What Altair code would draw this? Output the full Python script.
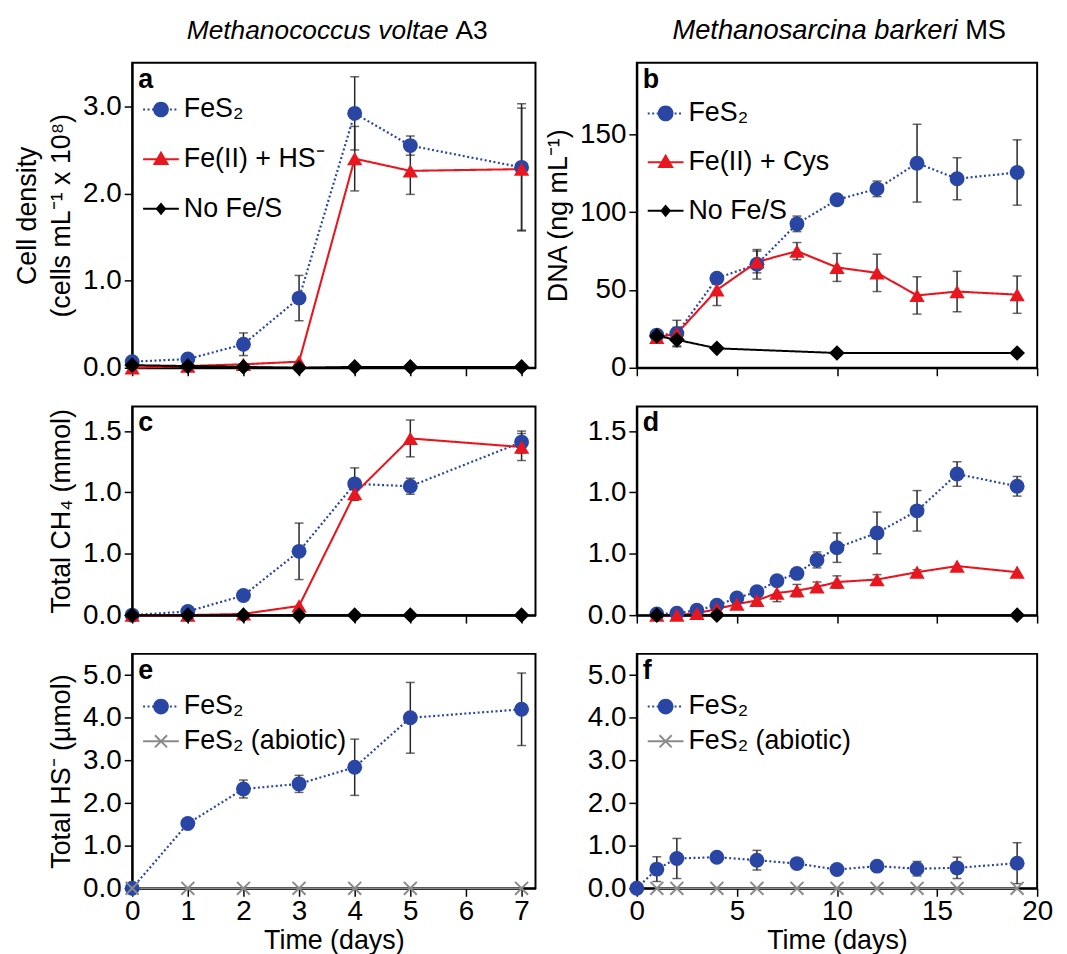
import altair as alt
import pandas as pd

FONT = "Liberation Sans"
BLUE, RED, BLACK, GRAY, ERRC = "#2a46a5", "#e8161e", "#000000", "#8a8a8a", "#262626"

FES2 = "FeS₂"
FEHS = "Fe(II) + HS⁻"
FECYS = "Fe(II) + Cys"
NONE = "No Fe/S"
ABIO = "FeS₂ (abiotic)"

# ---------------- data ----------------
# a: Methanococcus voltae, cell density (cells/mL x 1e8)
a_days = [0, 1, 2, 3, 4, 5, 7]
a_fes2 = [0.07, 0.10, 0.27, 0.80, 2.92, 2.55, 2.30]
a_fes2_err = [0, 0, 0.13, 0.26, 0.42, 0.11, 0.73]
a_fehs = [0.00, 0.02, 0.04, 0.07, 2.40, 2.26, 2.28]
a_fehs_err = [0, 0, 0, 0, 0.37, 0.27, 0.70]
a_none = [0.03, 0.02, 0.01, 0.00, 0.01, 0.01, 0.01]

# b: Methanosarcina barkeri, DNA (ng/mL)
b_days = [1, 2, 4, 6, 8, 10, 12, 14, 16, 19]
b_fes2 = [21, 22, 57.5, 66.5, 92.5, 108, 115, 131.5, 121.5, 125.5]
b_fes2_err = [0, 8.5, 0, 9.5, 5, 0, 5, 25, 13.5, 21]
b_fecys = [19.5, 22, 50, 68, 75, 64.5, 61, 46.5, 49, 47]
b_fecys_err = [0, 4, 10, 7, 5.5, 9, 12, 12, 13, 12]
b_none_days = [1, 2, 4, 10, 19]
b_none = [20.5, 18, 12.5, 9.5, 9.5]
b_none_err = [0, 4, 0, 0, 0]

# c: M. voltae, total CH4 (mmol)
c_days = [0, 1, 2, 3, 4, 5, 7]
c_fes2 = [0.00, 0.03, 0.16, 0.52, 1.07, 1.05, 1.41]
c_fes2_err = [0, 0, 0, 0.23, 0.13, 0.065, 0.09]
c_fehs = [0.00, 0.00, 0.01, 0.075, 0.99, 1.44, 1.37]
c_fehs_err = [0, 0, 0, 0, 0.055, 0.15, 0.11]
c_none = [0, 0, 0, 0, 0, 0, 0]

# d: M. barkeri, total CH4 (mmol)
d_days = [1, 2, 3, 4, 5, 6, 7, 8, 9, 10, 12, 14, 16, 19]
d_fes2 = [0.01, 0.015, 0.04, 0.08, 0.14, 0.19, 0.28, 0.34, 0.45, 0.55, 0.67, 0.85, 1.15, 1.05]
d_fes2_err = [0, 0, 0, 0, 0, 0, 0, 0, 0.065, 0.12, 0.17, 0.165, 0.10, 0.08]
d_fecys = [0.0, 0.0, 0.015, 0.05, 0.09, 0.12, 0.18, 0.20, 0.23, 0.27, 0.29, 0.35, 0.40, 0.35]
d_fecys_err = [0, 0, 0, 0, 0, 0, 0.07, 0.05, 0.04, 0.05, 0.04, 0.02, 0, 0]
d_none_days = [1, 4, 19]
d_none = [0, 0, 0]

# e: M. voltae, total HS- (umol)
e_days = [0, 1, 2, 3, 4, 5, 7]
e_fes2 = [0.0, 1.52, 2.33, 2.45, 2.84, 4.00, 4.20]
e_fes2_err = [0, 0, 0.21, 0.20, 0.66, 0.83, 0.85]
e_abio = [0, 0, 0, 0, 0, 0, 0]

# f: M. barkeri, total HS- (umol)
f_days = [0, 1, 2, 4, 6, 8, 10, 12, 14, 16, 19]
f_fes2 = [0.0, 0.45, 0.70, 0.73, 0.66, 0.58, 0.44, 0.52, 0.46, 0.48, 0.59]
f_fes2_err = [0, 0.29, 0.47, 0, 0.23, 0.10, 0, 0, 0.17, 0.25, 0.48]
f_abio_days = [1, 2, 4, 6, 8, 10, 12, 14, 16, 19]
f_abio = [0, 0, 0, 0, 0, 0, 0, 0, 0, 0]

# ---------------- styles ----------------
X_P = "M-1,-1L1,1M-1,1L1,-1"
M_CIRC = "M-0.44,0A0.44,0.44,0,1,1,0.44,0A0.44,0.44,0,1,1,-0.44,0Z"
M_TRI = "M0,-0.47L0.46,0.33L-0.46,0.33Z"
M_DIA = "M0,-0.36L0.3,0L0,0.36L-0.3,0Z"
M_X = "M-0.34,-0.34L0.34,0.34M-0.34,0.34L0.34,-0.34"
LINE_SYM = "M-1,0L1,0"

STYLE = {
    FES2: dict(color=BLUE, shape="circle", size=225, dash=[2, 2.5], lw=2.2,
               stroke="transparent", mleg=M_CIRC),
    FEHS: dict(color=RED, shape="triangle-up", size=250, dash=[1, 0], lw=2,
               stroke="transparent", mleg=M_TRI),
    FECYS: dict(color=RED, shape="triangle-up", size=250, dash=[1, 0], lw=2,
                stroke="transparent", mleg=M_TRI),
    NONE: dict(color=BLACK, shape="diamond", size=170, dash=[1, 0], lw=1.6,
               stroke="transparent", mleg=M_DIA),
    ABIO: dict(color=GRAY, shape=X_P, size=170, dash=[1, 0], lw=1.6,
               stroke=GRAY, mleg=M_X),
}


def make_df(entries):
    rows = []
    for series, days, vals, errs in entries:
        if errs is None:
            errs = [0] * len(vals)
        for d, v, e in zip(days, vals, errs):
            rows.append(dict(series=series, day=d, val=v, err=e, lo=v - e, hi=v + e))
    return pd.DataFrame(rows)


ONE = pd.DataFrame({"k": [0]})
EMPTY = pd.DataFrame({"series": pd.Series([], dtype=str), "series2": pd.Series([], dtype=str)})


def panel(entries, xdom, xticks, show_x, ydom, yticks, yfmt, ytitle, letter,
          w, h, legend_pos=None, half=False, top=None):
    keys = [e[0] for e in entries]
    df = make_df(entries)
    xs = alt.Scale(domain=xdom, nice=False, zero=False)
    ys = alt.Scale(domain=ydom, nice=False, zero=False)
    xkw = dict(values=xticks, labels=show_x, format="d")
    if show_x:
        xkw["title"] = "Time (days)"
        xkw["titlePadding"] = 3
        xkw["labelPadding"] = 1
    else:
        xkw["title"] = None
    ykw = dict(values=yticks, format=yfmt, title=ytitle)
    if half:
        ykw["labelExpr"] = "datum.value === 0.5 ? '1.0' : format(datum.value, '.1f')"
    X = alt.X("day:Q", scale=xs, axis=alt.Axis(**xkw))
    Y = alt.Y("val:Q", scale=ys, axis=alt.Axis(**ykw))

    def sc(attr):
        return alt.Scale(domain=keys, range=[STYLE[k][attr] for k in keys])

    errs = alt.Chart(df[df.err > 0]).mark_errorbar(
        ticks={"size": 9, "strokeWidth": 1.5}, thickness=1.5, color=ERRC
    ).encode(
        x=X,
        y=alt.Y("lo:Q", scale=ys, axis=alt.Axis(**ykw)),
        y2="hi:Q",
    )
    lines = alt.Chart(df).mark_line(strokeCap="butt").encode(
        x=X, y=Y,
        color=alt.Color("series:N", scale=sc("color"), legend=None),
        strokeDash=alt.StrokeDash("series:N", scale=sc("dash"), legend=None),
        strokeWidth=alt.StrokeWidth("series:N", scale=sc("lw"), legend=None),
        order="day:Q",
    )
    pts = alt.Chart(df).mark_point(filled=True, opacity=1, strokeWidth=2).encode(
        x=X, y=Y,
        color=alt.Color("series:N", scale=sc("color"), legend=None),
        shape=alt.Shape("series:N", scale=sc("shape"), legend=None),
        size=alt.Size("series:N", scale=sc("size"), legend=None),
        stroke=alt.Stroke("series:N", scale=sc("stroke"), legend=None),
    )
    lab = alt.Chart(ONE).mark_text(
        text=letter, font=FONT, fontSize=27, fontWeight="bold", align="left",
        baseline="alphabetic", color="black"
    ).encode(x=alt.value(6), y=alt.value(25))
    layers = [errs, lines, pts, lab]
    if top is not None:
        it, rm, xi, xr, fs = top
        layers.append(alt.Chart(ONE).mark_text(
            text=it, font=FONT, fontSize=fs, fontStyle="italic", align="right",
            baseline="alphabetic", color="black").encode(x=alt.value(xi), y=alt.value(-24)))
        layers.append(alt.Chart(ONE).mark_text(
            text=rm, font=FONT, fontSize=fs, align="left",
            baseline="alphabetic", color="black").encode(x=alt.value(xr), y=alt.value(-24)))
    if legend_pos is not None:
        leg_y, leg_pad = legend_pos
        common = dict(
            title=None, orient="none", legendX=10, legendY=leg_y, symbolSize=1296,
            labelFont=FONT, labelFontSize=27, labelOffset=4,
            rowPadding=leg_pad, labelLimit=400, padding=0, symbolOpacity=1,
        )
        leg_line = alt.Legend(symbolType=LINE_SYM, symbolFillColor="transparent",
                              symbolStrokeWidth=2, labelColor="black", **common)
        leg_mark = alt.Legend(symbolStrokeWidth=2, labelColor="transparent", **common)
        line_leg_layer = alt.Chart(EMPTY).mark_point(filled=False, size=1296, strokeWidth=2, opacity=1).encode(
            stroke=alt.Stroke("series:N", scale=sc("color"), legend=leg_line),
            strokeDash=alt.StrokeDash("series:N", scale=sc("dash"), legend=leg_line),
        )
        mark_leg_layer = alt.Chart(EMPTY).mark_point(filled=True, size=1296, strokeWidth=2, opacity=1).encode(
            fill=alt.Fill("series2:N", scale=sc("color"), legend=leg_mark),
            shape=alt.Shape("series2:N", scale=sc("mleg"), legend=leg_mark),
            stroke=alt.Stroke("series2:N", scale=sc("stroke"), legend=leg_mark),
        )
        layers += [line_leg_layer, mark_leg_layer]
    return alt.layer(*layers).resolve_scale(
        shape="independent", stroke="independent", strokeDash="independent",
        fill="independent",
    ).properties(width=w, height=h)


W1, W2 = 406, 403
H1, H2, H3 = 307, 210, 236
T1 = [0, 1, 2, 3, 4, 5, 6, 7]
T2 = [0, 5, 10, 15, 20]

pa = panel([(FES2, a_days, a_fes2, a_fes2_err), (FEHS, a_days, a_fehs, a_fehs_err), (NONE, a_days, a_none, None)],
           [0, 7.25], T1, False, [0, 3.5], [0, 1, 2, 3], ".1f",
           ["Cell density", "(cells mL⁻¹ x 10⁸)"], "a", W1, H1, legend_pos=(28, 18),
           top=("Methanococcus voltae", "A3", 318.5, 325.5, 26.5))
pb = panel([(FES2, b_days, b_fes2, b_fes2_err), (FECYS, b_days, b_fecys, b_fecys_err), (NONE, b_none_days, b_none, b_none_err)],
           [0, 20], T2, False, [0, 196], [0, 50, 100, 150], "d",
           "DNA (ng mL⁻¹)", "b", W2, H1, legend_pos=(32, 17),
           top=("Methanosarcina barkeri", "MS", 323, 330.5, 27.5))
pc = panel([(FES2, c_days, c_fes2, c_fes2_err), (FEHS, c_days, c_fehs, c_fehs_err), (NONE, c_days, c_none, None)],
           [0, 7.25], T1, False, [0, 1.7], [0, 0.5, 1.0, 1.5], ".1f",
           "Total CH₄ (mmol)", "c", W1, H2, half=True)
pd_ = panel([(FES2, d_days, d_fes2, d_fes2_err), (FECYS, d_days, d_fecys, d_fecys_err), (NONE, d_none_days, d_none, None)],
            [0, 20], T2, False, [0, 1.7], [0, 0.5, 1.0, 1.5], ".1f",
            None, "d", W2, H2, half=True)
pe = panel([(FES2, e_days, e_fes2, e_fes2_err), (ABIO, e_days, e_abio, None)],
           [0, 7.25], T1, True, [0, 5.5], [0, 1, 2, 3, 4, 5], ".1f",
           "Total HS⁻ (µmol)", "e", W1, H3, legend_pos=(34, 3))
pf = panel([(FES2, f_days, f_fes2, f_fes2_err), (ABIO, f_abio_days, f_abio, None)],
           [0, 20], T2, True, [0, 5.5], [0, 1, 2, 3, 4, 5], ".1f",
           None, "f", W2, H3, legend_pos=(34, 3))

chart = alt.concat(
    pa, pb, pc, pd_, pe, pf, columns=2,
    spacing={"row": 39, "column": 102}, bounds="flush", align="each",
).resolve_scale(
    x="independent", y="independent", color="independent", shape="independent",
    size="independent", stroke="independent", strokeDash="independent",
    strokeWidth="independent", fill="independent",
).resolve_legend(
    shape="independent", color="independent", size="independent", fill="independent",
    stroke="independent", strokeDash="independent", strokeWidth="independent",
).configure(
    font=FONT, background="white",
).configure_view(
    stroke="black", strokeWidth=2,
).configure_axis(
    labelFont=FONT, labelFontSize=28, labelColor="black", labelFlush=False,
    labelPadding=3, titleFont=FONT, titleFontSize=27, titleFontWeight="normal",
    titleColor="black", titlePadding=7, titleLineHeight=34,
    domainColor="black", domainWidth=2, tickColor="black", tickWidth=1.5,
    tickSize=8, grid=False,
)

chart.save("out.html", embed_options={"renderer": "svg", "actions": False})
